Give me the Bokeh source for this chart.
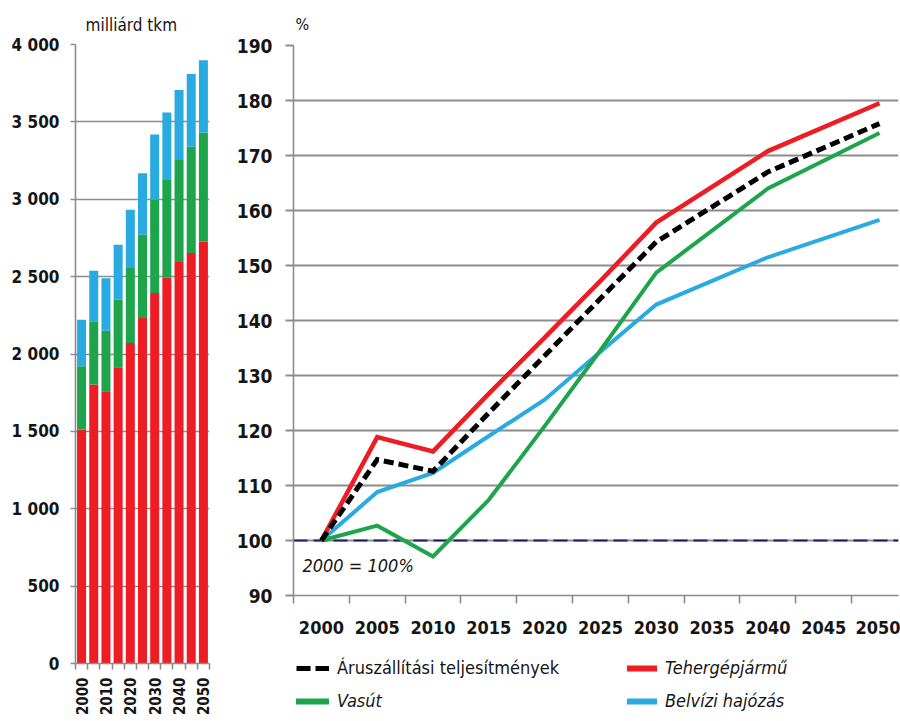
import math
from bokeh.plotting import figure
from bokeh.layouts import row, column
from bokeh.models import (FixedTicker, Span, Label, Legend, LegendItem,
                          Range1d, ColumnDataSource)
from bokeh.embed import file_html
from bokeh.resources import INLINE

FONT = "DejaVu Sans Condensed"

# ---------------- data: freight volume (billion tkm) ----------------
bar_years = [2000, 2005, 2010, 2015, 2020, 2025, 2030, 2035, 2040, 2045, 2050]
road_tkm = [1512, 1803, 1759, 1914, 2071, 2232, 2394, 2495, 2594, 2652, 2727]
rail_tkm = [409, 408, 392, 437, 484, 538, 602, 630, 660, 688, 705]
water_tkm = [301, 327, 339, 355, 377, 398, 423, 436, 452, 469, 467]
bar_tick_values = [0, 500, 1000, 1500, 2000, 2500, 3000, 3500, 4000]
bar_tick_labels = ["0", "500", "1 000", "1 500", "2 000", "2 500", "3 000", "3 500", "4 000"]
bar_label_years = [2000, 2010, 2020, 2030, 2040, 2050]

# ---------------- data: index, 2000 = 100% ----------------
line_years = [2000, 2005, 2010, 2015, 2020, 2025, 2030, 2040, 2050]
total_idx = [100, 114.7, 112.6, 123.2, 133.6, 144.0, 154.3, 167.0, 175.8]
road_idx = [100, 118.8, 116.2, 126.7, 136.9, 147.2, 157.8, 170.8, 179.5]
rail_idx = [100, 102.7, 97.1, 107.4, 120.8, 134.6, 148.7, 164.0, 174.1]
water_idx = [100, 108.8, 112.3, 119.0, 125.6, 134.3, 142.9, 151.5, 158.3]
line_tick_years = [2000, 2005, 2010, 2015, 2020, 2025, 2030, 2035, 2040, 2045, 2050]
pct_ticks = [90, 100, 110, 120, 130, 140, 150, 160, 170, 180, 190]

name_total = "Áruszállítási teljesítmények"
name_road = "Tehergépjármű"
name_rail = "Vasút"
name_water = "Belvízi hajózás"

RED = "#ee1c25"
GREEN = "#1ea54c"
BLUE = "#29aae1"
GRID = "#8c8c8c"
NAVY = "#1d1d6e"
TXT = "#151515"

half = 2.5

# ---------------- left: stacked bars ----------------
bar_bounds = [y - half for y in bar_years] + [bar_years[-1] + half]

p1 = figure(width=215, height=721,
            x_range=Range1d(bar_bounds[0], bar_bounds[-1]),
            y_range=Range1d(bar_tick_values[0], bar_tick_values[-1]),
            output_backend="svg", toolbar_location=None,
            min_border_left=75, min_border_right=6,
            min_border_top=44, min_border_bottom=58,
            title="milliárd tkm")
src = ColumnDataSource(dict(year=bar_years, road=road_tkm, rail=rail_tkm, water=water_tkm))
p1.vbar_stack(["road", "rail", "water"], x="year", width=3.7, source=src,
              fill_color=[RED, GREEN, BLUE], line_color=None)

p1.title.text_font = FONT
p1.title.text_font_size = "17px"
p1.title.text_font_style = "normal"
p1.title.text_color = TXT
p1.title.offset = 10
p1.title.standoff = 20

p1.outline_line_color = None
p1.xgrid.visible = False
p1.ygrid.grid_line_color = GRID
p1.ygrid.grid_line_width = 1.6

p1.xaxis.ticker = FixedTicker(ticks=bar_label_years, minor_ticks=bar_bounds)
p1.xaxis.major_tick_out = 0
p1.xaxis.major_tick_in = 0
p1.xaxis.minor_tick_out = 6
p1.xaxis.minor_tick_in = 0
p1.xaxis.minor_tick_line_color = GRID
p1.xaxis.minor_tick_line_width = 1.6
p1.xaxis.major_label_orientation = math.pi / 2
p1.xaxis.major_label_standoff = 8
p1.xaxis.major_label_text_font_size = "15px"

p1.yaxis.ticker = FixedTicker(ticks=bar_tick_values)
p1.yaxis.major_label_overrides = dict(zip(bar_tick_values, bar_tick_labels))
p1.yaxis.major_tick_out = 5
p1.yaxis.major_tick_in = 0
p1.yaxis.minor_tick_out = 0
p1.yaxis.major_label_standoff = 11
p1.yaxis.major_label_text_font_size = "17px"

for ax in (p1.xaxis, p1.yaxis):
    ax.axis_line_color = GRID
    ax.axis_line_width = 1.6
    ax.major_tick_line_color = GRID
    ax.major_tick_line_width = 1.6
    ax.major_label_text_font = FONT
    ax.major_label_text_font_style = "bold"
    ax.major_label_text_color = TXT

# ---------------- right: index lines ----------------
line_bounds = [y - half for y in line_tick_years] + [line_tick_years[-1] + half]

p2 = figure(width=685, height=645,
            x_range=Range1d(line_bounds[0], 2051.7),
            y_range=Range1d(pct_ticks[0], pct_ticks[-1]),
            output_backend="svg", toolbar_location=None,
            min_border_left=78, min_border_right=2,
            min_border_top=45, min_border_bottom=50,
            title="%")
p2.title.text_font = FONT
p2.title.text_font_size = "16px"
p2.title.text_font_style = "normal"
p2.title.text_color = TXT
p2.title.offset = 2
p2.title.standoff = 24

p2.outline_line_color = None
p2.xgrid.visible = False
p2.ygrid.grid_line_color = GRID
p2.ygrid.grid_line_width = 1.8

base = Span(location=100, dimension="width", line_color=NAVY, line_width=2.2,
            line_dash="14 6", level="underlay")
p2.add_layout(base)

r_water = p2.line(line_years, water_idx, line_color=BLUE, line_width=4, line_join="miter")
r_rail = p2.line(line_years, rail_idx, line_color=GREEN, line_width=4, line_join="miter")
r_road = p2.line(line_years, road_idx, line_color=RED, line_width=4.5, line_join="miter")
r_total = p2.line(line_years, total_idx, line_color="black", line_width=5,
                  line_dash="10 5", line_join="miter")

p2.xaxis.ticker = FixedTicker(ticks=line_tick_years, minor_ticks=line_bounds)
p2.xaxis.major_tick_out = 0
p2.xaxis.major_tick_in = 0
p2.xaxis.minor_tick_out = 8
p2.xaxis.minor_tick_in = 0
p2.xaxis.minor_tick_line_color = GRID
p2.xaxis.minor_tick_line_width = 1.6
p2.xaxis.major_label_standoff = 17
p2.xaxis.major_label_text_font_size = "18px"

p2.yaxis.ticker = FixedTicker(ticks=pct_ticks)
p2.yaxis.major_tick_out = 8
p2.yaxis.major_tick_in = 0
p2.yaxis.minor_tick_out = 0
p2.yaxis.major_label_standoff = 13
p2.yaxis.major_label_text_font_size = "19px"

for ax in (p2.xaxis, p2.yaxis):
    ax.axis_line_color = GRID
    ax.axis_line_width = 1.6
    ax.major_tick_line_color = GRID
    ax.major_tick_line_width = 1.8
    ax.major_label_text_font = FONT
    ax.major_label_text_font_style = "bold"
    ax.major_label_text_color = TXT

p2.add_layout(Label(x=1998.3, y=95.4, text="2000 = 100%", text_font=FONT,
                    text_font_size="18px", text_font_style="italic",
                    text_color=TXT, text_baseline="middle"))

# ---------------- legend strip below the line chart ----------------
p3 = figure(width=685, height=76, x_range=Range1d(0, 1), y_range=Range1d(0, 1),
            x_axis_location=None, y_axis_location=None,
            output_backend="svg", toolbar_location=None,
            min_border_left=78, min_border_right=2,
            min_border_top=0, min_border_bottom=0)
p3.outline_line_color = None
p3.grid.visible = False

# invisible placeholder renderers (one NaN point) that only supply legend swatches
nan_pt = [math.nan]
k_total = p3.line(nan_pt, nan_pt, line_color="black", line_width=5, line_dash="14 5")
k_road = p3.line(nan_pt, nan_pt, line_color=RED, line_width=6, line_cap="round")
k_rail = p3.line(nan_pt, nan_pt, line_color=GREEN, line_width=6, line_cap="round")
k_water = p3.line(nan_pt, nan_pt, line_color=BLUE, line_width=6, line_cap="round")


def add_legend(label, renderer, vx, vy, gw, style):
    leg = Legend(items=[LegendItem(label=label, renderers=[renderer])],
                 location=(vx, vy), orientation="horizontal",
                 padding=0, margin=0, spacing=0,
                 glyph_width=gw, glyph_height=20, label_height=20,
                 label_standoff=8, label_text_font=FONT,
                 label_text_font_size="18px", label_text_font_style=style,
                 label_text_color=TXT, border_line_alpha=0,
                 background_fill_alpha=0)
    p3.add_layout(leg, "center")


add_legend(name_total, k_total, 3, 43, 33, "normal")
add_legend(name_road, k_road, 334, 43, 30, "italic")
add_legend(name_rail, k_rail, 3, 10, 33, "italic")
add_legend(name_water, k_water, 334, 10, 30, "italic")

layout = row(p1, column(p2, p3, spacing=0), spacing=0)
open("out.html", "w").write(file_html(layout, INLINE))
